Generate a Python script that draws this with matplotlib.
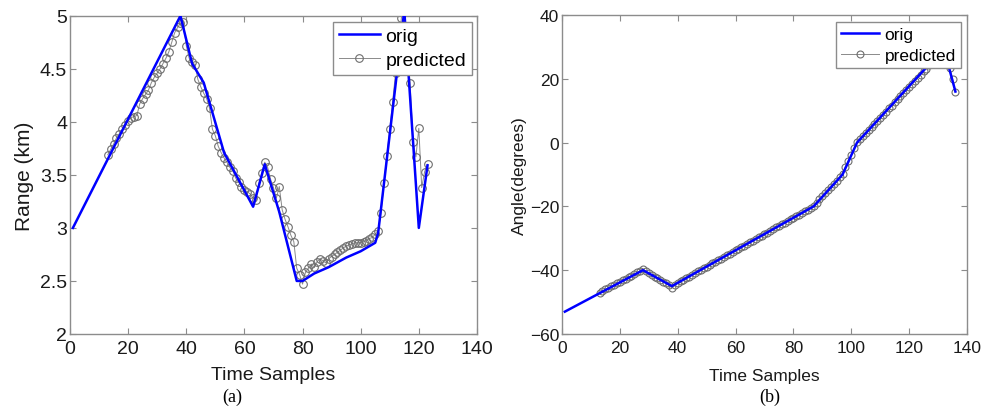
import matplotlib
matplotlib.use("Agg")
import matplotlib.pyplot as plt

plt.rcParams['font.family'] = ['Liberation Sans', 'DejaVu Sans']

# (a) range: orig track vertices and predicted samples
range_orig_x = [1, 38, 42, 46, 53, 63, 67, 72, 78, 80, 84, 89, 95, 100, 105, 106, 115, 120, 123]
range_orig_y = [3.0, 5.0, 4.55, 4.37, 3.71, 3.2, 3.6, 3.15, 2.5, 2.5, 2.57, 2.63, 2.72, 2.78, 2.86,
                2.95, 5.05, 3.0, 3.59]
range_pred_x = list(range(13, 124))
range_pred_y = [3.69, 3.74, 3.79, 3.85, 3.89, 3.93, 3.97, 4.01, 4.04, 4.05,
                4.06, 4.17, 4.22, 4.26, 4.30, 4.37, 4.42, 4.46, 4.50, 4.55,
                4.60, 4.66, 4.75, 4.84, 4.89, 4.93, 4.94, 4.72, 4.60, 4.56,
                4.54, 4.40, 4.33, 4.27, 4.22, 4.13, 3.93, 3.87, 3.77, 3.71,
                3.66, 3.62, 3.57, 3.54, 3.47, 3.43, 3.39, 3.36, 3.34, 3.32,
                3.28, 3.26, 3.42, 3.52, 3.62, 3.57, 3.46, 3.38, 3.28, 3.39,
                3.17, 3.08, 3.01, 2.93, 2.87, 2.62, 2.56, 2.47, 2.58, 2.62,
                2.66, 2.63, 2.68, 2.71, 2.69, 2.67, 2.71, 2.73, 2.75, 2.77,
                2.79, 2.81, 2.83, 2.84, 2.85, 2.86, 2.86, 2.86, 2.87, 2.88,
                2.90, 2.91, 2.94, 2.97, 3.14, 3.42, 3.68, 3.93, 4.19, 4.46,
                4.72, 4.98, 5.05, 4.70, 4.37, 3.81, 3.67, 3.94, 3.38, 3.53,
                3.60]

# (b) angle
angle_orig_x = [1, 28, 38, 87, 97, 102, 132, 136]
angle_orig_y = [-53, -40, -45, -20, -10, 0, 29.5, 16]
angle_pred_x = list(range(13, 137))
angle_pred_y = [-47.0, -46.5, -46.0, -45.5, -45.1, -44.6, -44.1, -43.6, -43.2, -42.7,
                -42.2, -41.7, -41.2, -40.7, -40.2, -39.5, -40.4, -41.0, -41.5, -42.0,
                -42.6, -43.1, -43.6, -44.1, -44.8, -45.6, -44.6, -44.0, -43.5, -43.0,
                -42.5, -42.0, -41.5, -41.0, -40.4, -39.9, -39.4, -38.9, -38.4, -37.9,
                -37.4, -36.9, -36.4, -35.9, -35.3, -34.8, -34.3, -33.8, -33.3, -32.8,
                -32.3, -31.8, -31.3, -30.7, -30.2, -29.7, -29.2, -28.7, -28.2, -27.7,
                -27.2, -26.6, -26.1, -25.6, -25.1, -24.6, -24.1, -23.6, -23.1, -22.6,
                -22.0, -21.5, -21.0, -20.5, -19.8, -18.9, -17.8, -16.9, -15.9, -14.8,
                -13.9, -12.9, -11.9, -10.9, -9.7, -7.5, -5.8, -3.9, -1.8, 0.2,
                1.0, 2.0, 3.0, 3.9, 4.9, 5.8, 6.8, 7.8, 8.7, 9.7,
                10.7, 11.6, 12.6, 13.6, 14.5, 15.5, 16.5, 17.4, 18.4, 19.4,
                20.3, 21.3, 22.3, 23.2, 24.2, 25.2, 26.1, 27.1, 28.4, 29.2,
                26.5, 23.5, 20.0, 16.0]

x_ticks = [0, 20, 40, 60, 80, 100, 120, 140]
range_ticks = [2, 2.5, 3, 3.5, 4, 4.5, 5]
angle_ticks = [-60, -40, -20, 0, 20, 40]

fig = plt.figure(figsize=(9.83, 4.10), dpi=100)
ax1 = fig.add_axes([0.0712, 0.183, 0.414, 0.776])
ax2 = fig.add_axes([0.5717, 0.183, 0.412, 0.778])


def style(ax, fs):
    for s in ax.spines.values():
        s.set_color('#8c8c8c')
        s.set_linewidth(1.0)
    ax.tick_params(direction='in', top=True, right=True, length=4, width=0.8,
                   color='#8c8c8c', labelsize=fs, labelcolor='#1a1a1a')
    ax.tick_params(axis='x', pad=4)
    ax.tick_params(axis='y', pad=2)


ax1.plot(range_orig_x, range_orig_y, color='#0000ff', lw=1.8, label='orig', zorder=3)
ax1.plot(range_pred_x, range_pred_y, color='#8a8a8a', lw=0.7, marker='o', ms=5.5,
         mfc='none', mec='#6e6e6e', mew=0.8, label='predicted', zorder=2)
ax1.set_xlim(0, 140)
ax1.set_ylim(2, 5)
ax1.set_xticks(x_ticks)
ax1.set_yticks(range_ticks)
ax1.set_yticklabels(['2', '2.5', '3', '3.5', '4', '4.5', '5'])
style(ax1, 14)
ax1.set_ylabel('Range (km)', fontsize=15, color='#1a1a1a', labelpad=4)
ax1.set_xlabel('Time Samples', fontsize=14, color='#1a1a1a', labelpad=7)
leg1 = ax1.legend(loc='upper right', bbox_to_anchor=(0.988, 0.981), borderaxespad=0,
                  fontsize=14, fancybox=False, framealpha=1, edgecolor='#8c8c8c',
                  handlelength=2.1, handletextpad=0.3, borderpad=0.3, labelspacing=0.3)
leg1.set_zorder(5)

ax2.plot(angle_orig_x, angle_orig_y, color='#0000ff', lw=1.8, label='orig', zorder=3)
ax2.plot(angle_pred_x, angle_pred_y, color='#8a8a8a', lw=0.7, marker='o', ms=5,
         mfc='none', mec='#6e6e6e', mew=0.8, label='predicted', zorder=2)
ax2.set_xlim(0, 140)
ax2.set_ylim(-60, 40)
ax2.set_xticks(x_ticks)
ax2.set_yticks(angle_ticks)
style(ax2, 12.5)
ax2.set_ylabel('Angle(degrees)', fontsize=12.5, color='#1a1a1a', labelpad=2)
ax2.set_xlabel('Time Samples', fontsize=12.5, color='#1a1a1a', labelpad=10)
leg2 = ax2.legend(loc='upper right', bbox_to_anchor=(0.985, 0.978), borderaxespad=0,
                  fontsize=12.5, fancybox=False, framealpha=1, edgecolor='#8c8c8c',
                  handlelength=2.2, handletextpad=0.3, borderpad=0.3, labelspacing=0.3)
leg2.set_zorder(5)

fig.text(0.236, 0.03, '(a)', fontsize=13, family='Liberation Serif', ha='center', va='center')
fig.text(0.783, 0.03, '(b)', fontsize=13, family='Liberation Serif', ha='center', va='center')

fig.savefig('out.png', dpi=100)
